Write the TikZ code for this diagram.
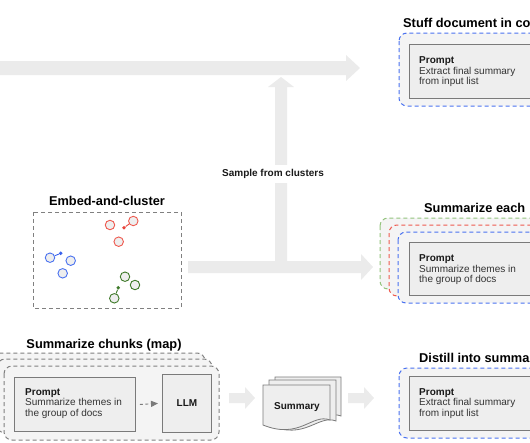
\documentclass[tikz,border=0pt]{standalone}
\usepackage{fontspec}
\setmainfont{Liberation Sans}
\usetikzlibrary{arrows.meta}
\definecolor{arrowgray}{HTML}{EBEBEB}
\definecolor{groupfill}{HTML}{F4F4F4}
\definecolor{innerfill}{HTML}{EEEEEE}
\definecolor{innerline}{HTML}{7A7A7A}
\definecolor{dashgray}{HTML}{808080}
\definecolor{cblue}{HTML}{4A72F0}
\definecolor{cred}{HTML}{EE5A4F}
\definecolor{cgreen}{HTML}{93C47D}
\definecolor{ptred}{HTML}{E8453C}
\definecolor{ptblue}{HTML}{3A62EC}
\definecolor{ptgreen}{HTML}{3F7A2A}
\definecolor{bodytext}{HTML}{333333}
\begin{document}
\begin{tikzpicture}[x=1pt,y=-1pt,
  title/.style={font=\fontsize{12.8}{14}\selectfont\bfseries, inner sep=0pt},
  bodyline/.style={font=\fontsize{10}{12}\selectfont, inner sep=0pt, anchor=base west, text=bodytext},
  boldline/.style={font=\fontsize{10}{12}\selectfont\bfseries, inner sep=0pt, text=black!90},
  groupbox/.style={draw=#1, dash pattern=on 4pt off 3pt, line width=1pt, fill=groupfill, rounded corners=8pt},
  innerbox/.style={draw=innerline, fill=innerfill, line width=0.9pt},
  cpoint/.style={circle, draw=#1, fill=innerfill, line width=0.9pt, minimum size=9.5pt, inner sep=0pt},
  cdot/.style={circle, fill=#1, minimum size=3.8pt, inner sep=0pt},
  docshape/.style={draw=innerline, fill=innerfill, line width=0.8pt},
]
\useasboundingbox (0,0) rectangle (530,442);
\clip (0,0) rectangle (530,442);

% ---------- block arrows ----------
\fill[arrowgray] (-5,61) -- (346,61) -- (346,55) -- (360,68) -- (346,81) -- (346,75) -- (-5,75) -- cycle;
\fill[arrowgray] (275,262) -- (275,87) -- (268,87) -- (281,77) -- (294,87) -- (287,87) -- (287,262) -- cycle;
\fill[arrowgray] (188,261) -- (361,261) -- (361,254) -- (373,267) -- (361,280) -- (361,273) -- (188,273) -- cycle;
\fill[arrowgray] (229,393) -- (245,393) -- (245,387) -- (255,398) -- (245,409) -- (245,403) -- (229,403) -- cycle;
\fill[arrowgray] (348,393) -- (364,393) -- (364,387) -- (374,398) -- (364,409) -- (364,403) -- (348,403) -- cycle;

\node[boldline, fill=white, inner xsep=3pt, inner ysep=4pt] (sample) at (273,174) {Sample from clusters};

% ---------- top: stuff document ----------
\node[title, anchor=base west] (t1) at (403,27) {Stuff document in co};
\draw[groupbox=cblue] (399,33) rectangle (570,106);
\draw[innerbox] (409,44) rectangle (570,98);
\node[boldline, anchor=base west] (p1) at (419,63) {Prompt};
\node[bodyline] (p1a) at (419,74) {Extract final summary};
\node[bodyline] (p1b) at (419,84.5) {from input list};

% ---------- middle: summarize each ----------
\node[title, anchor=base west] (t2) at (424,212) {Summarize each};
\draw[groupbox=cgreen] (380,218) rectangle (570,289);
\draw[groupbox=cred] (389,225) rectangle (570,296);
\draw[groupbox=cblue] (398,232) rectangle (570,303);
\draw[innerbox] (409,242) rectangle (570,295);
\node[boldline, anchor=base west] (p2) at (419,261) {Prompt};
\node[bodyline] (p2a) at (419,272) {Summarize themes in};
\node[bodyline] (p2b) at (419,282.5) {the group of docs};

% ---------- bottom right: distill ----------
\node[title, anchor=base west] (t3) at (419,362) {Distill into summa};
\draw[groupbox=cblue] (399,368) rectangle (570,438);
\draw[innerbox] (409,376) rectangle (570,430);
\node[boldline, anchor=base west] (p3) at (419,395) {Prompt};
\node[bodyline] (p3a) at (419,405.5) {Extract final summary};
\node[bodyline] (p3b) at (419,416) {from input list};

% ---------- embed and cluster ----------
\node[title, anchor=base] (t4) at (107,205) {Embed-and-cluster};
\draw[dashgray, dash pattern=on 4pt off 3pt, line width=1pt] (33,212) rectangle (181,308);
\node[cpoint=cred] (r1) at (110,225) {};
\node[cpoint=cred] (r2) at (133.3,221) {};
\node[cpoint=cred] (r3) at (118.7,241.7) {};
\node[cdot=ptred] (rd) at (124,227.7) {};
\draw[ptred, line width=0.9pt] (rd) -- (r2);
\node[cpoint=cblue] (b1) at (50,257.7) {};
\node[cpoint=cblue] (b2) at (70.7,260.7) {};
\node[cpoint=cblue] (b3) at (62.7,273.3) {};
\node[cdot=ptblue] (bd) at (60.7,253.3) {};
\draw[ptblue, line width=0.9pt] (bd) -- (b1);
\node[cpoint=ptgreen] (g1) at (125,276.7) {};
\node[cpoint=ptgreen] (g2) at (135,285) {};
\node[cpoint=ptgreen] (g3) at (114.3,298.3) {};
\node[cdot=ptgreen] (gd) at (118.3,287.7) {};
\draw[ptgreen, line width=0.9pt] (gd) -- (g3);

% ---------- bottom left: summarize chunks ----------
\node[title, anchor=base] (t5) at (104,348) {Summarize chunks (map)};
\draw[groupbox=dashgray] (-10,353) rectangle (205,427);
\draw[groupbox=dashgray] (-3,359) rectangle (212,433);
\draw[groupbox=dashgray] (4,366) rectangle (219,440);
\node[innerbox, anchor=north west, minimum width=121pt, minimum height=54pt, inner sep=0pt] (pbox) at (14,377) {};
\node[boldline, anchor=base west] (p4) at (25,395) {Prompt};
\node[bodyline] (p4a) at (25,405.5) {Summarize themes in};
\node[bodyline] (p4b) at (25,416) {the group of docs};
\node[innerbox, anchor=north west, minimum width=49pt, minimum height=58pt, inner sep=0pt] (llmbox) at (162,374) {};
\node[boldline] (llm) at (llmbox.center) {LLM};
\draw[innerline, line width=0.9pt, dash pattern=on 3pt off 2.5pt, -{Triangle[length=7pt,width=6pt]}]
  ([xshift=4pt]pbox.east) -- ([xshift=-4pt]llmbox.west);

% ---------- summary documents ----------
\draw[docshape] (275,377) -- (341,377) -- (341,416) .. controls (323,409) and (311,436) .. (275,421) -- cycle;
\draw[docshape] (269,380) -- (336,380) -- (336,421) .. controls (318,414) and (305,441) .. (269,425) -- cycle;
\draw[docshape] (263,385) -- (330,385) -- (330,420) .. controls (312,413) and (300,440) .. (263,425) -- cycle;
\node[boldline] (summ) at (297,407) {Summary};
\end{tikzpicture}
\end{document}
